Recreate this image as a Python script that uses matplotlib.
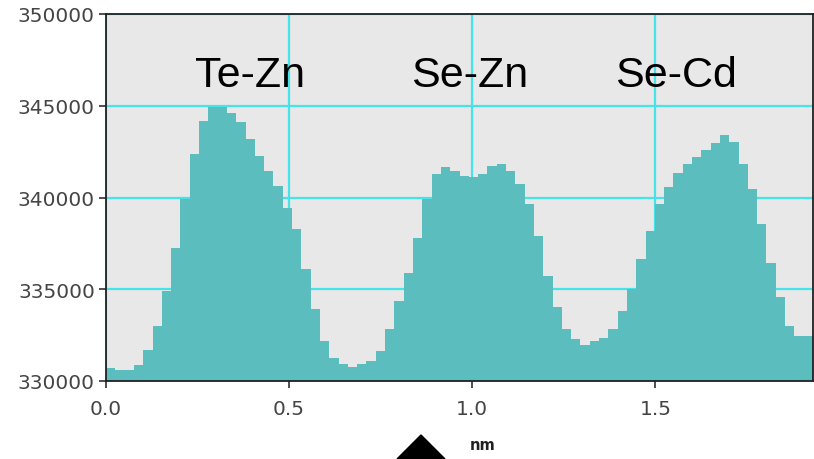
import numpy as np
import matplotlib
matplotlib.use("Agg")
import matplotlib.pyplot as plt
from matplotlib.patches import Polygon

# Histogram counts per bin (bin width 0.0254 nm)
bin_width = 0.0254
counts = [
    330730, 330580, 330580, 330870, 331670, 333000, 334910, 337270, 339910, 342360,
    344180, 344910, 344910, 344630, 344090, 343180, 342270, 341450, 340640, 339450,
    338270, 336090, 333910, 332180, 331270, 330910, 330760, 330910, 331090, 331640,
    332820, 334360, 335910, 337820, 339910, 341270, 341670, 341420, 341180, 341130,
    341270, 341730, 341820, 341420, 340760, 339640, 337910, 335740, 334050, 332820,
    332270, 331950, 332180, 332360, 332820, 333820, 335000, 336640, 338180, 339640,
    340550, 341360, 341820, 342180, 342600, 342960, 343400, 343000, 341820, 340450,
    338550, 336450, 334600, 333000, 332450, 332450,
]
peak_labels = ["Te-Zn", "Se-Zn", "Se-Cd"]
peak_label_x = [0.393, 0.993, 1.557]
peak_label_y = 346700
xticks = [0.0, 0.5, 1.0, 1.5]
yticks = [330000, 335000, 340000, 345000, 350000]

edges = np.arange(len(counts) + 1) * bin_width

fig = plt.figure(figsize=(8.14, 4.60), dpi=100)
ax = fig.add_axes([106 / 814, 78 / 460, 707 / 814, 367 / 460])
ax.set_facecolor("#e8e8e8")

ax.stairs(counts, edges, baseline=330000, fill=True, color="#5bbdbd", zorder=2)

ax.set_xlim(0, edges[-1])
ax.set_ylim(330000, 350000)
ax.set_xticks(xticks)
ax.set_xticklabels([f"{v:.1f}" for v in xticks])
ax.set_yticks(yticks)
ax.set_yticklabels([str(v) for v in yticks])
ax.grid(True, color="#45e3ea", linewidth=1.6, zorder=1)
ax.set_axisbelow(True)

for s in ax.spines.values():
    s.set_color("#202020")
    s.set_linewidth(1.3)
    s.set_zorder(3)

ax.tick_params(axis="both", direction="out", length=5, width=1.2, color="#303030",
               labelsize=14.5, labelcolor="#454545")
ax.tick_params(axis="x", pad=8)
ax.tick_params(axis="y", pad=3)

for lab, lx in zip(peak_labels, peak_label_x):
    ax.text(lx, peak_label_y, lab, ha="center", va="center", fontsize=31,
            family="Liberation Sans", color="black", zorder=4)

fig.text(470 / 814, 1 - 446 / 460, "nm", ha="left", va="center", fontsize=10.5,
         fontweight="bold", color="#202020")

tri = Polygon([[421 / 814, 1 - 436 / 460], [397 / 814, 0.0], [445 / 814, 0.0]],
              closed=True, transform=fig.transFigure, facecolor="black",
              edgecolor="black")
fig.patches.append(tri)

fig.savefig("out.png", dpi=100)
